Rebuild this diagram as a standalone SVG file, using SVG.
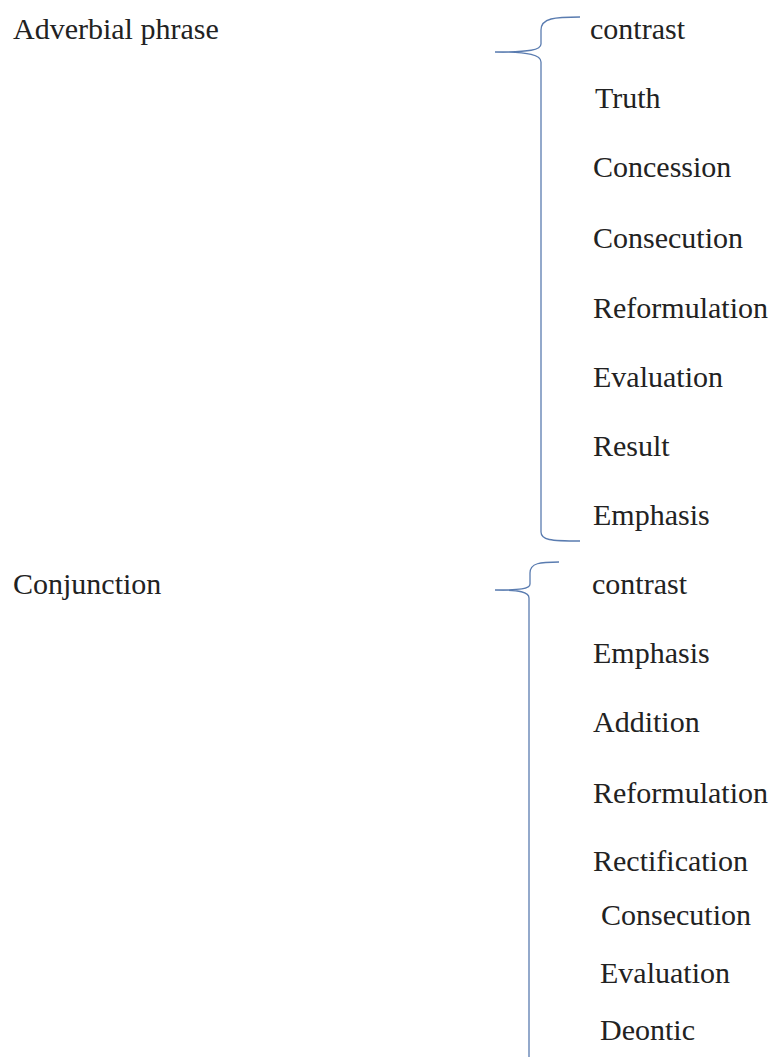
<svg xmlns="http://www.w3.org/2000/svg" width="773" height="1057" viewBox="0 0 773 1057">
<style>
text{font-family:"Liberation Serif","Times New Roman",serif;font-size:30px;fill:#222}
.brace{fill:none;stroke:#5a7cb0;stroke-width:1.3}
</style>
<rect width="773" height="1057" fill="#fff"/>
<g id="adverbial">
<text x="13" y="39">Adverbial phrase</text>
</g>
<g id="conjunction">
<text x="13" y="594">Conjunction</text>
</g>
<g id="connectors">
<path class="brace" d="M580,17 C555,17 541,18 541,30 L541,44 C541,50 530,52 495,52 C530,52 541,55 541,62 L541,532 C541,540 550,541 580,541"/>
<path class="brace" d="M559,562 C540,562 530,563 530,573 L530,584 C530,589 520,590 495,590 C520,590 529,592 529,598 L529,1057"/>
</g>
<g id="adverbial-items">
<text x="590" y="39">contrast</text>
<text x="595" y="108">Truth</text>
<text x="593" y="177">Concession</text>
<text x="593" y="248">Consecution</text>
<text x="593" y="318">Reformulation</text>
<text x="593" y="387">Evaluation</text>
<text x="593" y="456">Result</text>
<text x="593" y="525">Emphasis</text>
</g>
<g id="conjunction-items">
<text x="592" y="594">contrast</text>
<text x="593" y="663">Emphasis</text>
<text x="593" y="732">Addition</text>
<text x="593" y="803">Reformulation</text>
<text x="593" y="871">Rectification</text>
<text x="601" y="925">Consecution</text>
<text x="600" y="983">Evaluation</text>
<text x="600" y="1040">Deontic</text>
</g>
</svg>
